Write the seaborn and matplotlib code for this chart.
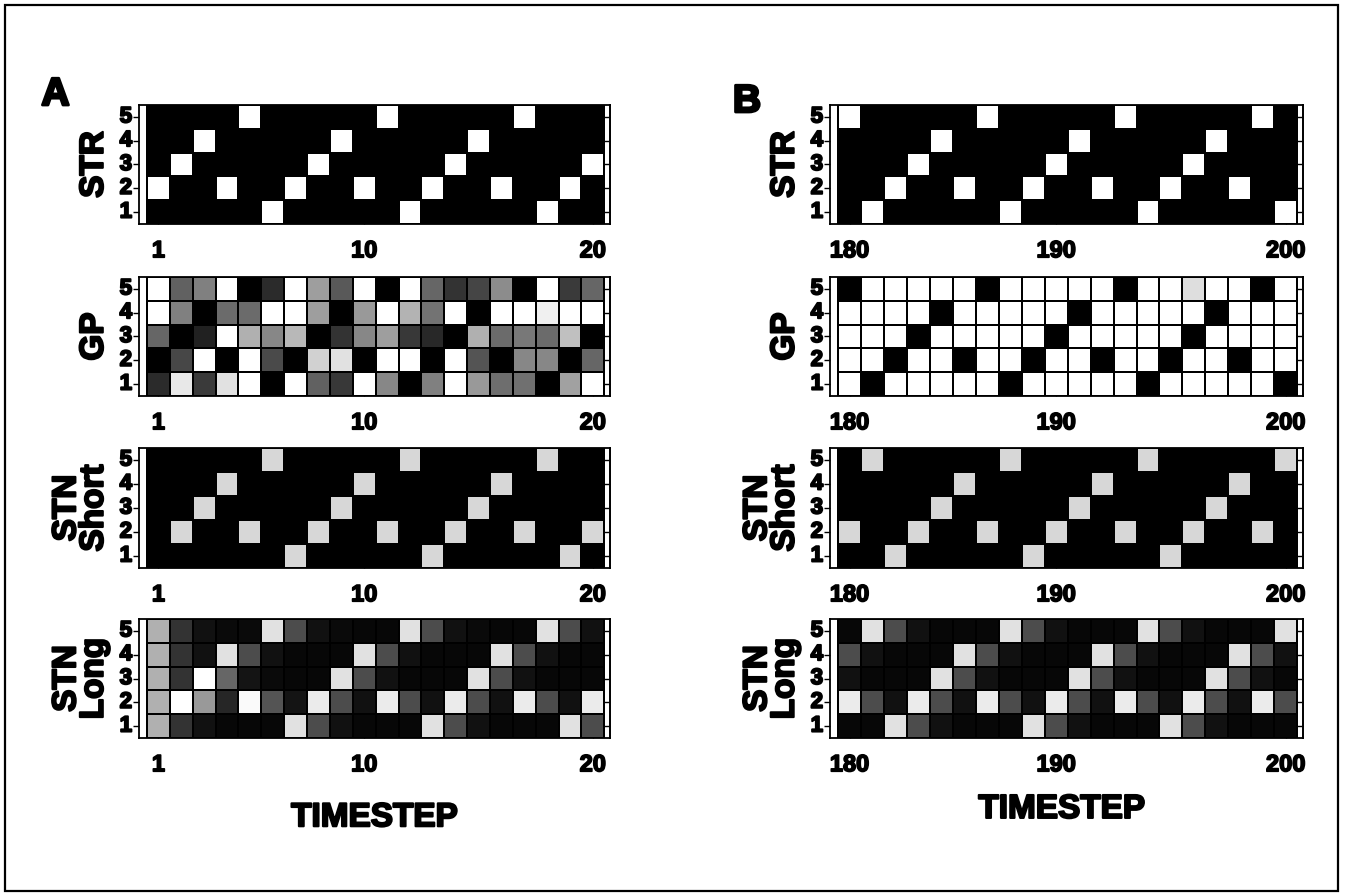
import numpy as np
import pandas as pd
import matplotlib
matplotlib.use("Agg")
import matplotlib.pyplot as plt
import matplotlib.patheffects as pe
from matplotlib.patches import Rectangle
import seaborn as sns

sns.set_theme(style="white")
plt.rcParams['font.family'] = ['Liberation Sans', 'DejaVu Sans']
plt.rcParams['font.weight'] = 'bold'

# ---------------- data ----------------
neurons = ['5', '4', '3', '2', '1']          # rows, top to bottom
tick_cols = [1, 10, 20]                      # labelled columns
ticks_a = ['1', '10', '20']
ticks_b = ['180', '190', '200']
row_labels = ['STR', 'GP', 'STN\nShort', 'STN\nLong']

# Panel A (timesteps 1..20)
str_a = [
    [0, 0, 0, 0, 1, 0, 0, 0, 0, 0, 1, 0, 0, 0, 0, 0, 1, 0, 0, 0],
    [0, 0, 1, 0, 0, 0, 0, 0, 1, 0, 0, 0, 0, 0, 1, 0, 0, 0, 0, 0],
    [0, 1, 0, 0, 0, 0, 0, 1, 0, 0, 0, 0, 0, 1, 0, 0, 0, 0, 0, 1],
    [1, 0, 0, 1, 0, 0, 1, 0, 0, 1, 0, 0, 1, 0, 0, 1, 0, 0, 1, 0],
    [0, 0, 0, 0, 0, 1, 0, 0, 0, 0, 0, 1, 0, 0, 0, 0, 0, 1, 0, 0],
]
gp_a = [
    [1.00, 0.38, 0.50, 1.00, 0.00, 0.17, 1.00, 0.62, 0.35, 1.00, 0.00, 1.00, 0.40, 0.20, 0.27, 0.55, 0.00, 1.00, 0.23, 0.40],
    [1.00, 0.50, 0.00, 0.42, 0.42, 1.00, 1.00, 0.62, 0.00, 0.60, 1.00, 0.70, 0.45, 1.00, 0.00, 1.00, 1.00, 0.94, 1.00, 1.00],
    [0.40, 0.00, 0.13, 1.00, 0.69, 0.53, 0.72, 0.00, 0.20, 0.53, 0.62, 0.22, 0.16, 0.00, 0.69, 0.42, 0.47, 0.42, 0.75, 0.00],
    [0.00, 0.28, 1.00, 0.00, 1.00, 0.29, 0.00, 0.82, 0.88, 0.00, 1.00, 1.00, 0.00, 1.00, 0.33, 0.00, 0.53, 0.53, 0.00, 0.40],
    [0.17, 0.91, 0.23, 0.88, 1.00, 0.00, 1.00, 0.38, 0.22, 1.00, 0.53, 0.00, 0.50, 1.00, 0.60, 0.43, 0.44, 0.00, 0.63, 1.00],
]
stn_short_a = [
    [0, 0, 0, 0, 0, 0.84, 0, 0, 0, 0, 0, 0.84, 0, 0, 0, 0, 0, 0.84, 0, 0],
    [0, 0, 0, 0.84, 0, 0, 0, 0, 0, 0.84, 0, 0, 0, 0, 0, 0.84, 0, 0, 0, 0],
    [0, 0, 0.84, 0, 0, 0, 0, 0, 0.84, 0, 0, 0, 0, 0, 0.84, 0, 0, 0, 0, 0],
    [0, 0.84, 0, 0, 0.84, 0, 0, 0.84, 0, 0, 0.84, 0, 0, 0.84, 0, 0, 0.84, 0, 0, 0.84],
    [0, 0, 0, 0, 0, 0, 0.84, 0, 0, 0, 0, 0, 0.84, 0, 0, 0, 0, 0, 0.84, 0],
]
stn_long_a = [
    [0.69, 0.20, 0.07, 0.04, 0.04, 0.88, 0.30, 0.07, 0.04, 0.03, 0.03, 0.88, 0.30, 0.07, 0.04, 0.03, 0.03, 0.88, 0.30, 0.07],
    [0.69, 0.20, 0.07, 0.88, 0.30, 0.07, 0.03, 0.03, 0.03, 0.88, 0.30, 0.07, 0.03, 0.03, 0.03, 0.88, 0.30, 0.07, 0.03, 0.03],
    [0.69, 0.20, 1.00, 0.40, 0.08, 0.04, 0.03, 0.03, 0.88, 0.30, 0.07, 0.03, 0.03, 0.03, 0.88, 0.30, 0.07, 0.03, 0.03, 0.03],
    [0.69, 1.00, 0.60, 0.15, 0.98, 0.33, 0.08, 0.92, 0.30, 0.07, 0.92, 0.30, 0.07, 0.92, 0.30, 0.07, 0.92, 0.30, 0.07, 0.92],
    [0.69, 0.20, 0.07, 0.03, 0.03, 0.03, 0.88, 0.30, 0.07, 0.03, 0.03, 0.03, 0.88, 0.30, 0.07, 0.03, 0.03, 0.03, 0.88, 0.30],
]

# Panel B (timesteps 180..200)
str_b = [
    [1, 0, 0, 0, 0, 0, 1, 0, 0, 0, 0, 0, 1, 0, 0, 0, 0, 0, 1, 0],
    [0, 0, 0, 0, 1, 0, 0, 0, 0, 0, 1, 0, 0, 0, 0, 0, 1, 0, 0, 0],
    [0, 0, 0, 1, 0, 0, 0, 0, 0, 1, 0, 0, 0, 0, 0, 1, 0, 0, 0, 0],
    [0, 0, 1, 0, 0, 1, 0, 0, 1, 0, 0, 1, 0, 0, 1, 0, 0, 1, 0, 0],
    [0, 1, 0, 0, 0, 0, 0, 1, 0, 0, 0, 0, 0, 1, 0, 0, 0, 0, 0, 1],
]
gp_b = [
    [0, 1, 1, 1, 1, 1, 0, 1, 1, 1, 1, 1, 0, 1, 1, 0.87, 1, 1, 0, 1],
    [1, 1, 1, 1, 0, 1, 1, 1, 1, 1, 0, 1, 1, 1, 1, 1, 0, 1, 1, 1],
    [1, 1, 1, 0, 1, 1, 1, 1, 1, 0, 1, 1, 1, 1, 1, 0, 1, 1, 1, 1],
    [1, 1, 0, 1, 1, 0, 1, 1, 0, 1, 1, 0, 1, 1, 0, 1, 1, 0, 1, 1],
    [1, 0, 1, 1, 1, 1, 1, 0, 1, 1, 1, 1, 1, 0, 1, 1, 1, 1, 1, 0],
]
stn_short_b = [
    [0, 0.84, 0, 0, 0, 0, 0, 0.84, 0, 0, 0, 0, 0, 0.84, 0, 0, 0, 0, 0, 0.84],
    [0, 0, 0, 0, 0, 0.84, 0, 0, 0, 0, 0, 0.84, 0, 0, 0, 0, 0, 0.84, 0, 0],
    [0, 0, 0, 0, 0.84, 0, 0, 0, 0, 0, 0.84, 0, 0, 0, 0, 0, 0.84, 0, 0, 0],
    [0.84, 0, 0, 0.84, 0, 0, 0.84, 0, 0, 0.84, 0, 0, 0.84, 0, 0, 0.84, 0, 0, 0.84, 0],
    [0, 0, 0.84, 0, 0, 0, 0, 0, 0.84, 0, 0, 0, 0, 0, 0.84, 0, 0, 0, 0, 0],
]
stn_long_b = [
    [0.03, 0.88, 0.30, 0.07, 0.03, 0.03, 0.03, 0.88, 0.30, 0.07, 0.03, 0.03, 0.03, 0.88, 0.30, 0.07, 0.03, 0.03, 0.03, 0.88],
    [0.30, 0.07, 0.03, 0.03, 0.03, 0.88, 0.30, 0.07, 0.03, 0.03, 0.03, 0.88, 0.30, 0.07, 0.03, 0.03, 0.03, 0.88, 0.30, 0.07],
    [0.07, 0.03, 0.03, 0.03, 0.88, 0.30, 0.07, 0.03, 0.03, 0.03, 0.88, 0.30, 0.07, 0.03, 0.03, 0.03, 0.88, 0.30, 0.07, 0.03],
    [0.92, 0.30, 0.07, 0.92, 0.30, 0.07, 0.92, 0.30, 0.07, 0.92, 0.30, 0.07, 0.92, 0.30, 0.07, 0.92, 0.30, 0.07, 0.92, 0.30],
    [0.03, 0.03, 0.88, 0.30, 0.07, 0.03, 0.03, 0.03, 0.88, 0.30, 0.07, 0.03, 0.03, 0.03, 0.88, 0.30, 0.07, 0.03, 0.03, 0.03],
]

# ---------------- figure ----------------
W, H = 1346, 896
fig = plt.figure(figsize=(W / 100, H / 100), dpi=100)
fig.patch.set_facecolor('white')

stroke = lambda w: [pe.withStroke(linewidth=w, foreground='black')]

def px_axes(left, top, right, bottom):
    return fig.add_axes([left / W, 1 - bottom / H, (right - left) / W, (bottom - top) / H])

rows_px = [(105, 224), (277, 396), (448, 568), (619, 738)]
cols_px = {'A': (139, 610), 'B': (830, 1303)}

panels = {
    'A': ([str_a, gp_a, stn_short_a, stn_long_a], ticks_a),
    'B': ([str_b, gp_b, stn_short_b, stn_long_b], ticks_b),
}

for key, (datasets, xt) in panels.items():
    x0, x1 = cols_px[key]
    for i, (data, lab) in enumerate(zip(datasets, row_labels)):
        top, bot = rows_px[i]
        ax = px_axes(x0, top, x1, bot)
        df = pd.DataFrame(data, index=neurons)
        sns.heatmap(df, ax=ax, cmap='gray', vmin=0, vmax=1, cbar=False,
                    linewidths=1.4, linecolor='black',
                    xticklabels=False, yticklabels=neurons)
        ncol = df.shape[1]
        ax.set_xlim(-0.35, ncol + 0.25)
        ax.set_ylim(len(neurons), 0)
        ax.set_facecolor('white')
        for s in ax.spines.values():
            s.set_visible(True)
            s.set_color('black')
            s.set_linewidth(1.3)
        ax.set_xticks([c - 0.5 for c in tick_cols])
        ax.set_xticklabels(xt)
        ax.set_yticks(np.arange(len(neurons)) + 0.5)
        ax.set_yticklabels(neurons, rotation=0)
        ax.tick_params(axis='x', which='both', bottom=True, top=True,
                       direction='in', length=4, width=1, color='black',
                       pad=11, labelsize=17, labelcolor='black')
        ax.tick_params(axis='y', which='both', left=True, right=False,
                       direction='out', length=4, width=1, color='black',
                       pad=1, labelsize=16, labelcolor='black')
        sec = ax.secondary_yaxis('right')
        sec.set_yticks(np.arange(len(neurons)) + 0.5)
        sec.set_yticklabels([])
        sec.tick_params(direction='in', length=5, width=1, color='black')
        sec.spines['right'].set_linewidth(1.3)
        for t in ax.get_xticklabels():
            t.set_fontweight('bold')
            t.set_path_effects(stroke(1.2))
        for t in ax.get_yticklabels():
            t.set_fontweight('bold')
            t.set_path_effects(stroke(1.4))
        ax.set_ylabel(lab, fontsize=24, fontweight='bold', color='black',
                      linespacing=0.85, path_effects=stroke(1.5))
        ax.yaxis.set_label_coords(-0.062, 0.5)
        if i == 3:
            ax.set_xlabel('TIMESTEP', fontsize=24, fontweight='bold', color='black',
                          path_effects=stroke(1.5))
            ax.xaxis.set_label_coords(0.5 if key == 'A' else 0.49,
                                      -0.54 if key == 'A' else -0.47)

fig.text(55.5 / W, 1 - 95 / H, 'A', fontsize=28, fontweight='bold', ha='center',
         va='center', color='black', path_effects=stroke(2))
fig.text(747 / W, 1 - 102 / H, 'B', fontsize=28, fontweight='bold', ha='center',
         va='center', color='black', path_effects=stroke(2))

fig.add_artist(Rectangle((5 / W, 5 / H), 1333 / W, 886 / H, transform=fig.transFigure,
                         fill=False, edgecolor='black', linewidth=1.6))

fig.savefig('out.png', dpi=100, facecolor='white')
